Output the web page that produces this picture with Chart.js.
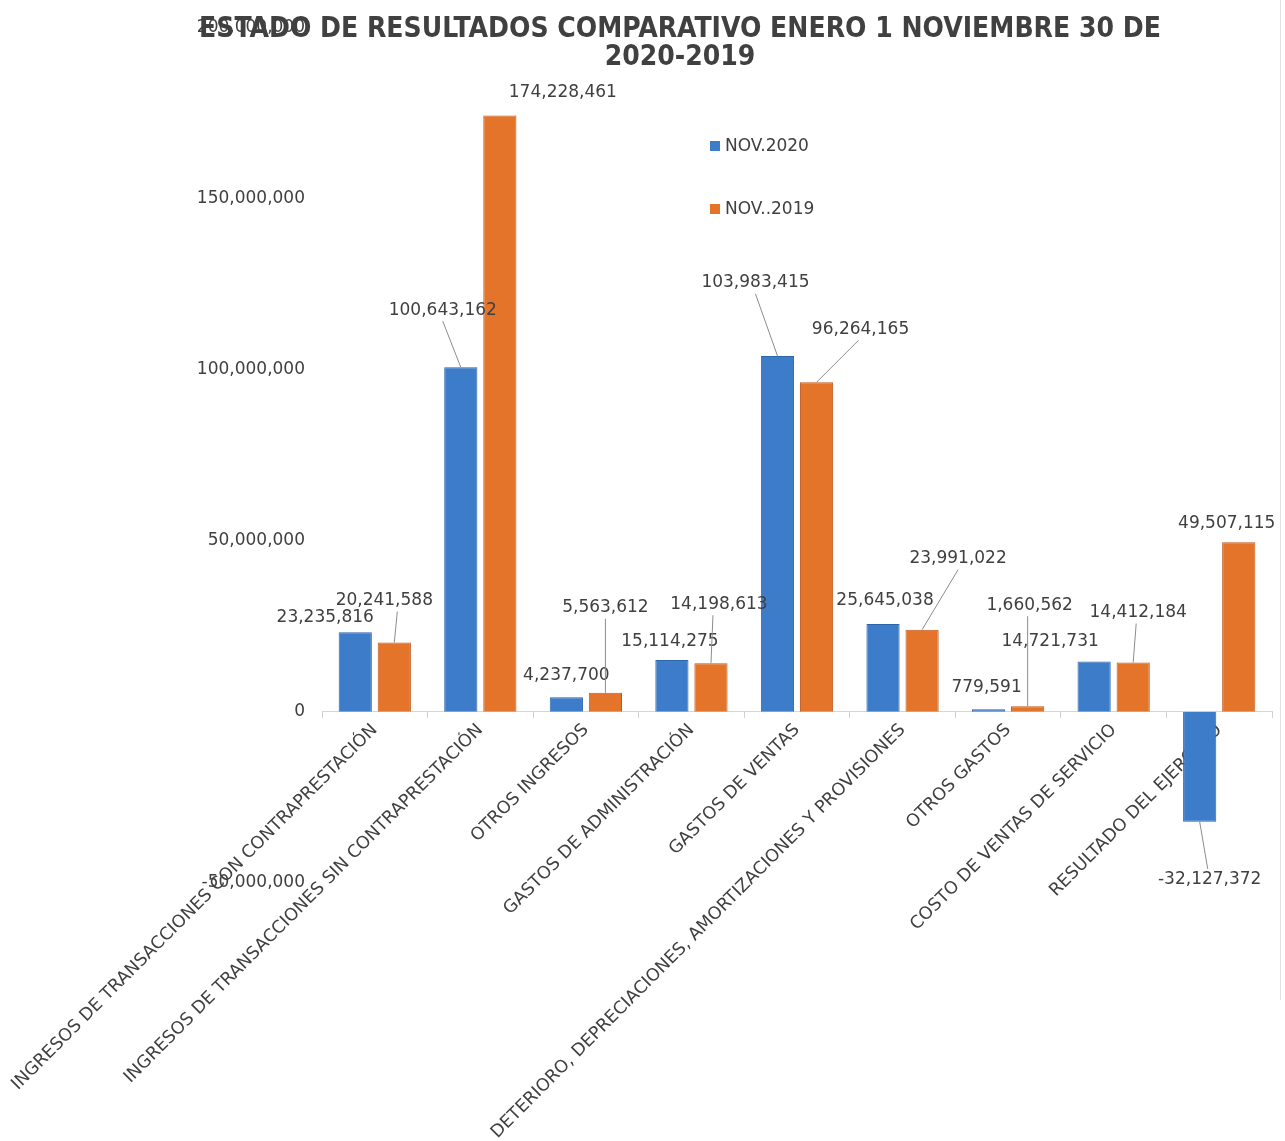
<!DOCTYPE html>
<html><head><meta charset="utf-8">
<script src="https://cdn.jsdelivr.net/npm/chart.js@4.4.1/dist/chart.umd.min.js"></script>
<style>html,body{margin:0;padding:0;background:#fff;}canvas{display:block;}</style>
</head><body>
<canvas id="c" width="1285" height="1141"></canvas>
<script>
// ---- data ----
const titleLines = ['ESTADO DE RESULTADOS COMPARATIVO ENERO 1 NOVIEMBRE 30 DE', '2020-2019'];
const categories = [
  'INGRESOS DE TRANSACCIONES CON CONTRAPRESTACIÓN',
  'INGRESOS DE TRANSACCIONES SIN CONTRAPRESTACIÓN',
  'OTROS INGRESOS',
  'GASTOS DE ADMINISTRACIÓN',
  'GASTOS DE VENTAS',
  'DETERIORO, DEPRECIACIONES, AMORTIZACIONES Y PROVISIONES',
  'OTROS GASTOS',
  'COSTO DE VENTAS DE SERVICIO',
  'RESULTADO DEL EJERCICIO'
];
const seriesNames = ['NOV.2020', 'NOV..2019'];
const nov2020 = [23235816, 100643162, 4237700, 15114275, 103983415, 25645038, 779591, 14721731, -32127372];
const nov2019 = [20241588, 174228461, 5563612, 14198613, 96264165, 23991022, 1660562, 14412184, 49507115];
const yTicks = [-50000000, 0, 50000000, 100000000, 150000000, 200000000];

// ---- label placement (style: offsets in px from bar end) [dx, dy, leader, leaderDx] ----
const labelPos2020 = [[-30,-15,0,0],[-18,-57,1,0],[0,-22,0,0],[-2,-19,0,0],[-22,-73,1,0],[2,-23,0,0],[-2,-22,0,0],[-44,-20,0,0],[10,58,1,-2]];
const labelPos2019 = [[-10,-42,1,13],[63,-23,0,0],[0,-85,1,0],[8,-59,1,-6],[44,-53,1,-2],[36,-71,1,0],[2,-101,1,-2],[5,-50,1,-2],[-12,-19,0,0]];

const TXT = '#404040';
const FONT = "'DejaVu Sans', sans-serif";
const colors = [{fill:'#3d7cc9', border:'#2e64a9'}, {fill:'#e5742b', border:'#c2581c'}];
const fmt = v => Number(v).toLocaleString('en-US');

const overlay = {
  id: 'overlay',
  afterDatasetsDraw(chart) {
    const ctx = chart.ctx;
    ctx.save();
    ctx.font = '17px ' + FONT;
    ctx.fillStyle = TXT;
    ctx.textAlign = 'center';
    ctx.textBaseline = 'middle';
    const posSets = [labelPos2020, labelPos2019];
    chart.data.datasets.forEach((ds, di) => {
      const meta = chart.getDatasetMeta(di);
      meta.data.forEach((bar, j) => {
        const p = posSets[di][j];
        const tx = bar.x + p[0], ty = bar.y + p[1];
        if (p[2]) {
          ctx.strokeStyle = '#8c8c8c';
          ctx.lineWidth = 1;
          ctx.beginPath();
          const sy = p[1] < 0 ? ty + 11 : ty - 11;
          ctx.moveTo(tx + p[3], sy);
          ctx.lineTo(bar.x, bar.y);
          ctx.stroke();
        }
        ctx.fillText(fmt(ds.data[j]), tx, ty);
      });
    });
    ctx.restore();
  },
  afterDraw(chart) {
    const ctx = chart.ctx;
    ctx.save();
    // frame edge
    ctx.strokeStyle = '#e2e2e2';
    ctx.lineWidth = 1;
    ctx.beginPath(); ctx.moveTo(1280.5, 0); ctx.lineTo(1280.5, 1000); ctx.stroke();
    // title
    ctx.fillStyle = TXT;
    ctx.textAlign = 'center';
    ctx.textBaseline = 'middle';
    ctx.font = "bold 28px 'DejaVu Sans Condensed', 'DejaVu Sans', sans-serif";
    ctx.fillText(titleLines[0], 680, 30);
    ctx.fillText(titleLines[1], 680, 58);
    // legend
    ctx.font = '17px ' + FONT;
    ctx.textAlign = 'left';
    seriesNames.forEach((n, i) => {
      const y = 146 + i * 63;
      ctx.fillStyle = colors[i].fill;
      ctx.fillRect(710, y - 5, 10, 10);
      ctx.fillStyle = TXT;
      ctx.fillText(n, 725, y + 1);
    });
    ctx.restore();
  }
};

new Chart(document.getElementById('c'), {
  type: 'bar',
  data: {
    labels: categories,
    datasets: [
      {label: seriesNames[0], data: nov2020, backgroundColor: colors[0].fill, borderColor: colors[0].border, borderWidth: 1, barPercentage: 0.85, categoryPercentage: 0.74},
      {label: seriesNames[1], data: nov2019, backgroundColor: colors[1].fill, borderColor: colors[1].border, borderWidth: 1, barPercentage: 0.85, categoryPercentage: 0.74}
    ]
  },
  options: {
    responsive: false,
    animation: false,
    layout: {padding: {left: 0, top: 20, right: 13, bottom: 258}},
    plugins: {legend: {display: false}, title: {display: false}, tooltip: {enabled: false}},
    scales: {
      x: {
        position: {y: 0},
        offset: true,
        grid: {display: true, drawOnChartArea: false, drawTicks: true, tickLength: 6, color: '#d0d0d0', offset: true},
        border: {display: true, color: '#d6d6d6'},
        ticks: {autoSkip: false, minRotation: 45, maxRotation: 45, padding: 2, color: TXT, font: {family: FONT, size: 17.5}},
        afterFit: s => { s.paddingLeft = 0; s.paddingRight = 0; }
      },
      y: {
        min: -50000000,
        max: 200000000,
        grid: {display: false, drawTicks: false},
        border: {display: false},
        ticks: {padding: 17, color: TXT, font: {family: FONT, size: 17}, callback: v => fmt(v)},
        afterBuildTicks: s => { s.ticks = yTicks.map(v => ({value: v})); },
        afterFit: s => { s.width = 322; }
      }
    }
  },
  plugins: [overlay]
});
</script>
</body></html>
